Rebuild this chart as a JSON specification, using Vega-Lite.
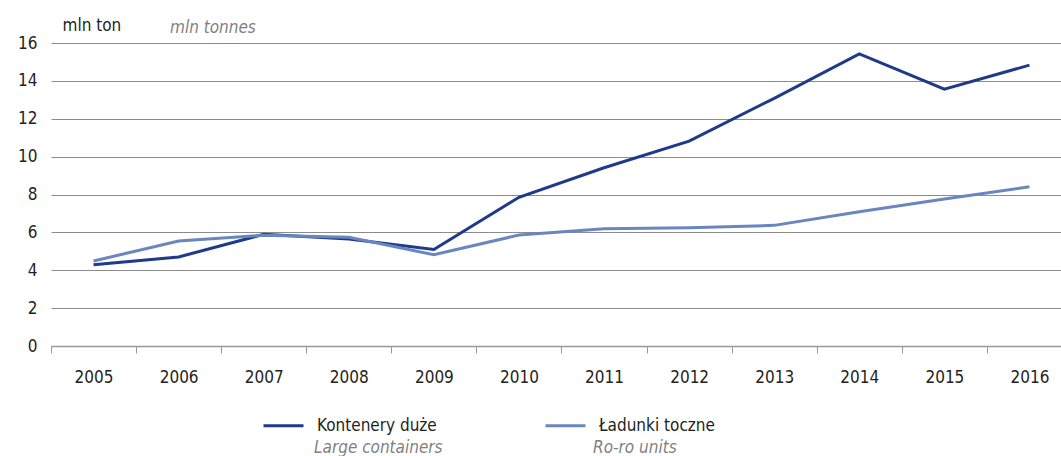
{
  "$schema": "https://vega.github.io/schema/vega-lite/v6.json",
  "width": 1010,
  "height": 303,
  "autosize": {"type": "none"},
  "padding": {"left": 51, "top": 43, "right": 0, "bottom": 110},
  "background": "white",
  "config": {
    "font": "DejaVu Sans Condensed",
    "view": {"stroke": null}
  },
  "title": {
    "text": "mln tonnes",
    "anchor": "start",
    "frame": "group",
    "orient": "top",
    "dx": 119,
    "offset": -34,
    "baseline": "alphabetic",
    "fontSize": 17,
    "fontStyle": "italic",
    "fontWeight": "normal",
    "color": "#808080",
    "font": "DejaVu Sans Condensed"
  },
  "data": {
    "values": [
      {"year": "2005", "series": "Kontenery duże", "en": "Large containers", "value": 4.29},
      {"year": "2006", "series": "Kontenery duże", "en": "Large containers", "value": 4.70},
      {"year": "2007", "series": "Kontenery duże", "en": "Large containers", "value": 5.90},
      {"year": "2008", "series": "Kontenery duże", "en": "Large containers", "value": 5.65},
      {"year": "2009", "series": "Kontenery duże", "en": "Large containers", "value": 5.10},
      {"year": "2010", "series": "Kontenery duże", "en": "Large containers", "value": 7.85},
      {"year": "2011", "series": "Kontenery duże", "en": "Large containers", "value": 9.41},
      {"year": "2012", "series": "Kontenery duże", "en": "Large containers", "value": 10.82},
      {"year": "2013", "series": "Kontenery duże", "en": "Large containers", "value": 13.08},
      {"year": "2014", "series": "Kontenery duże", "en": "Large containers", "value": 15.42},
      {"year": "2015", "series": "Kontenery duże", "en": "Large containers", "value": 13.56},
      {"year": "2016", "series": "Kontenery duże", "en": "Large containers", "value": 14.83},
      {"year": "2005", "series": "Ładunki toczne", "en": "Ro-ro units", "value": 4.49},
      {"year": "2006", "series": "Ładunki toczne", "en": "Ro-ro units", "value": 5.54},
      {"year": "2007", "series": "Ładunki toczne", "en": "Ro-ro units", "value": 5.85},
      {"year": "2008", "series": "Ładunki toczne", "en": "Ro-ro units", "value": 5.74},
      {"year": "2009", "series": "Ładunki toczne", "en": "Ro-ro units", "value": 4.82},
      {"year": "2010", "series": "Ładunki toczne", "en": "Ro-ro units", "value": 5.86},
      {"year": "2011", "series": "Ładunki toczne", "en": "Ro-ro units", "value": 6.19},
      {"year": "2012", "series": "Ładunki toczne", "en": "Ro-ro units", "value": 6.25},
      {"year": "2013", "series": "Ładunki toczne", "en": "Ro-ro units", "value": 6.37},
      {"year": "2014", "series": "Ładunki toczne", "en": "Ro-ro units", "value": 7.09},
      {"year": "2015", "series": "Ładunki toczne", "en": "Ro-ro units", "value": 7.76},
      {"year": "2016", "series": "Ładunki toczne", "en": "Ro-ro units", "value": 8.41}
    ]
  },
  "mark": {"type": "line", "strokeWidth": 3},
  "encoding": {
    "x": {
      "field": "year",
      "type": "ordinal",
      "bandPosition": 0.5,
      "scale": {"type": "band", "paddingInner": 0, "paddingOuter": 0, "range": [0, 1021]},
      "axis": {
        "title": null,
        "labelAngle": 0,
        "domainColor": "#9a9a9a",
        "domainWidth": 1.5,
        "tickColor": "#9a9a9a",
        "tickSize": 7,
        "tickWidth": 1,
        "tickBand": "extent",
        "labelFontSize": 17,
        "labelColor": "#231f20",
        "labelPadding": 16,
        "grid": false
      }
    },
    "y": {
      "field": "value",
      "type": "quantitative",
      "scale": {"domain": [0, 16], "nice": false},
      "axis": {
        "values": [0, 2, 4, 6, 8, 10, 12, 14, 16],
        "grid": true,
        "gridColor": "#8c8c8c",
        "gridWidth": 1,
        "domain": false,
        "ticks": false,
        "labelFontSize": 17,
        "labelColor": "#231f20",
        "labelPadding": 14,
        "title": "mln ton",
        "titleAngle": 0,
        "titleAlign": "left",
        "titleBaseline": "alphabetic",
        "titleX": 11,
        "titleY": -13,
        "titleFontSize": 17,
        "titleFontWeight": "normal",
        "titleColor": "#231f20"
      }
    },
    "color": {
      "field": "series",
      "type": "nominal",
      "scale": {"domain": ["Kontenery duże", "Ładunki toczne"], "range": ["#1f3a89", "#6a86bf"]},
      "legend": {
        "title": null,
        "orient": "none",
        "legendX": 211,
        "legendY": 361,
        "direction": "horizontal",
        "columns": 2,
        "columnPadding": 102,
        "symbolType": "stroke",
        "symbolSize": 1600,
        "symbolStrokeWidth": 3,
        "labelOffset": 12,
        "labelFontSize": 17,
        "labelColor": "#231f20",
        "labelLimit": 300
      }
    },
    "opacity": {
      "field": "en",
      "type": "nominal",
      "scale": {"domain": ["Large containers", "Ro-ro units"], "range": [1, 1]},
      "legend": {
        "title": null,
        "orient": "none",
        "legendX": 211,
        "legendY": 385,
        "direction": "horizontal",
        "columns": 2,
        "columnPadding": 98,
        "symbolType": "stroke",
        "symbolSize": 1600,
        "symbolOpacity": 0,
        "symbolStrokeWidth": 0,
        "labelOffset": 12,
        "labelFontSize": 17,
        "labelFontStyle": "italic",
        "labelColor": "#7f7f7f",
        "labelLimit": 300
      }
    }
  }
}
